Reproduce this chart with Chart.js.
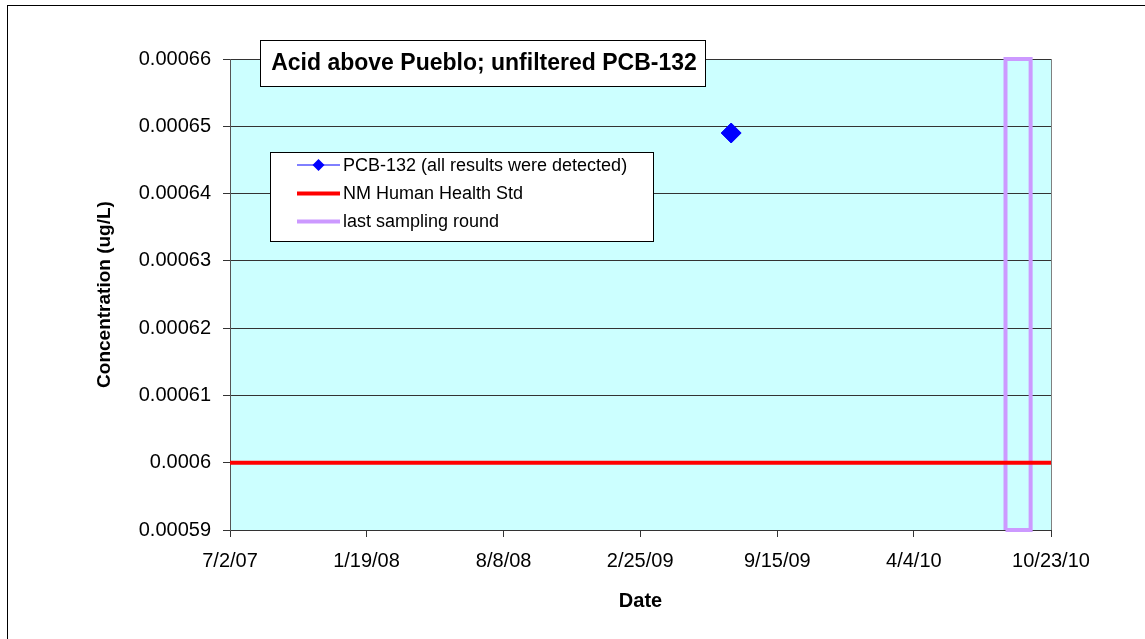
<!DOCTYPE html>
<html><head><meta charset="utf-8">
<script src="https://cdn.jsdelivr.net/npm/chart.js@4.4.1/dist/chart.umd.min.js"></script>
<style>html,body{margin:0;padding:0;background:#fff;} canvas{display:block;}</style>
</head><body>
<canvas id="c" width="1145" height="639"></canvas>
<script>
// ---- data ----
const chartTitle = "Acid above Pueblo; unfiltered PCB-132";
const xAxisTitle = "Date";
const yAxisTitle = "Concentration (ug/L)";
const xTickLabels = ["7/2/07", "1/19/08", "8/8/08", "2/25/09", "9/15/09", "4/4/10", "10/23/10"];
const yMin = 0.00059, yMax = 0.00066, yStep = 0.00001;
const seriesLabels = ["PCB-132 (all results were detected)", "NM Human Health Std", "last sampling round"];
const pcbDates = ["2009-07-09"];
const pcbValues = [0.000649];
const stdValue = 0.0006;
const lastRoundDates = ["2010-08-17", "2010-09-23"];

// ---- helpers ----
function isoToSerial(s){const [y,m,d]=s.split('-').map(Number);return Date.UTC(y,m-1,d)/864e5+25569;}
function mdyToSerial(s){const [m,d,y]=s.split('/').map(Number);return Date.UTC(2000+y,m-1,d)/864e5+25569;}
const xTickValues = xTickLabels.map(mdyToSerial);
const xMin = xTickValues[0], xMax = xTickValues[xTickValues.length-1];

const pcbData = pcbDates.map((d,i)=>({x:isoToSerial(d), y:pcbValues[i]}));
const stdData = [{x:xMin,y:stdValue},{x:xMax,y:stdValue}];
const lr0 = isoToSerial(lastRoundDates[0]), lr1 = isoToSerial(lastRoundDates[1]);
const lastData = [{x:lr0,y:yMin},{x:lr0,y:yMax},{x:lr1,y:yMax},{x:lr1,y:yMin},{x:lr0,y:yMin}];

const FONT = "'Liberation Sans', Arial, sans-serif";

const decor = {
  id:'decor',
  beforeDraw(chart){
    const {ctx, chartArea:a} = chart;
    ctx.save();
    ctx.fillStyle='#fff'; ctx.fillRect(0,0,chart.width,chart.height);
    ctx.strokeStyle='#000'; ctx.lineWidth=1;
    ctx.strokeRect(7.5,5.5,chart.width+20,chart.height+20);
    ctx.fillStyle='#CCFFFF';
    ctx.fillRect(a.left,a.top,a.right-a.left,a.bottom-a.top);
    ctx.restore();
  },
  afterDraw(chart){
    const {ctx, chartArea:a} = chart;
    ctx.save();
    // right border of plot
    ctx.strokeStyle='#808080'; ctx.lineWidth=1;
    ctx.beginPath(); ctx.moveTo(Math.round(a.right)+0.5,a.top); ctx.lineTo(Math.round(a.right)+0.5,a.bottom); ctx.stroke();
    // title box
    ctx.fillStyle='#fff'; ctx.fillRect(260.5,40.5,445,46);
    ctx.strokeStyle='#000'; ctx.strokeRect(260.5,40.5,445,46);
    ctx.fillStyle='#000'; ctx.font="bold 23px "+FONT;
    ctx.textAlign='center'; ctx.textBaseline='middle';
    ctx.fillText(chartTitle,484,64);
    // legend box
    const lx=270.5, ly=152.5, lw=383, lh=89;
    ctx.fillStyle='#fff'; ctx.fillRect(lx,ly,lw,lh);
    ctx.strokeStyle='#000'; ctx.strokeRect(lx,ly,lw,lh);
    const rows=[165,193.5,221.5];
    ctx.font="18px "+FONT; ctx.textAlign='left'; ctx.textBaseline='middle';
    chart.data.datasets.forEach((ds,i)=>{
      const y=rows[i];
      ctx.strokeStyle=ds.borderColor; ctx.lineWidth=ds.borderWidth;
      ctx.lineCap='butt';
      ctx.beginPath(); ctx.moveTo(297,y); ctx.lineTo(340,y); ctx.stroke();
      if(ds.pointStyle==='rectRot'){
        ctx.fillStyle=ds.pointBackgroundColor;
        ctx.beginPath(); ctx.moveTo(318.5,y-6); ctx.lineTo(324.5,y); ctx.lineTo(318.5,y+6); ctx.lineTo(312.5,y); ctx.closePath(); ctx.fill();
      }
      ctx.fillStyle='#000';
      ctx.fillText(ds.label,343,y+1);
    });
    ctx.restore();
  }
};

new Chart(document.getElementById('c'), {
  type:'line',
  data:{datasets:[
    {label:seriesLabels[0], data:pcbData, borderColor:'#0000FF', borderWidth:1, pointStyle:'rectRot',
     pointRadius:10, pointHoverRadius:10, pointBackgroundColor:'#0000FF', pointBorderColor:'#0000FF', showLine:true},
    {label:seriesLabels[1], data:stdData, borderColor:'#FF0000', borderWidth:4, pointRadius:0},
    {label:seriesLabels[2], data:lastData, borderColor:'#CC99FF', borderWidth:4, pointRadius:0, clip:false, borderJoinStyle:'miter'}
  ]},
  options:{
    responsive:false, animation:false, devicePixelRatio:1,
    layout:{padding:{top:59,right:94,left:0,bottom:0}},
    plugins:{legend:{display:false}, tooltip:{enabled:false}},
    scales:{
      x:{type:'linear', min:xMin, max:xMax,
        afterBuildTicks(s){ s.ticks = xTickValues.map(v=>({value:v})); },
        afterFit(s){ s.height = 109; },
        ticks:{autoSkip:false, maxRotation:0, padding:12, color:'#000', font:{family:FONT,size:20},
          callback:(v,i)=>xTickLabels[i]},
        grid:{drawOnChartArea:false, drawTicks:true, tickLength:7, color:'#333'},
        border:{color:'#333', width:1},
        title:{display:true, text:xAxisTitle, color:'#000', font:{family:FONT,size:20,weight:'bold'}, padding:{top:0,bottom:26}}
      },
      y:{type:'linear', min:yMin, max:yMax,
        afterFit(s){ s.width = 230; },
        ticks:{stepSize:yStep, padding:12, color:'#000', font:{family:FONT,size:20},
          callback:(v)=>String(parseFloat(Number(v).toFixed(5)))},
        grid:{color:'#333', lineWidth:1, tickLength:7},
        border:{color:'#555', width:1},
        title:{display:true, text:yAxisTitle, color:'#000', font:{family:FONT,size:19,weight:'bold'}, padding:{top:93,bottom:0}}
      }
    }
  },
  plugins:[decor]
});
</script>
</body></html>
